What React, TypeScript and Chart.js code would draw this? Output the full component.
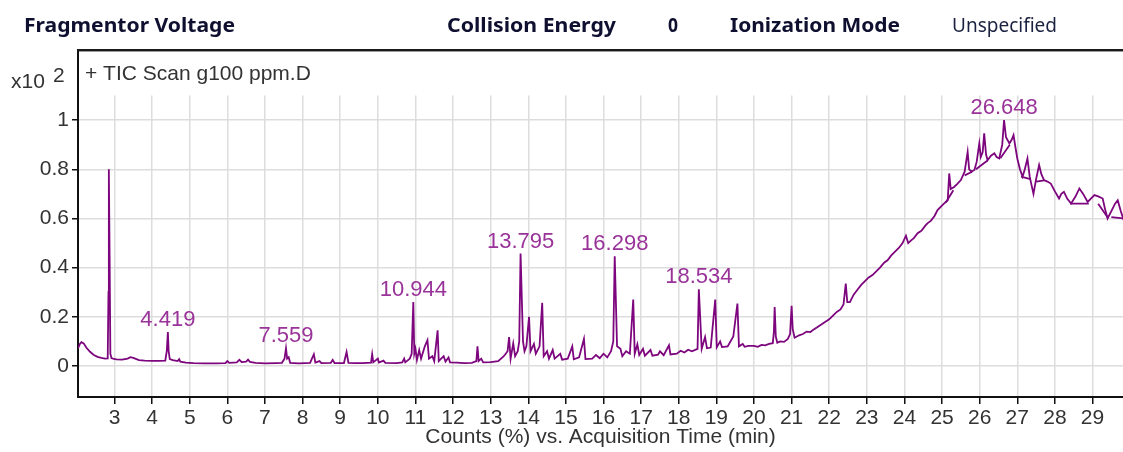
import React, { useEffect, useRef } from 'react';
import { Chart, registerables } from 'chart.js';

Chart.register(...registerables);

// ---- data (counts x10^2 vs acquisition time, min) ----
const times: number[] = [
  2.03, 2.08, 2.12, 2.18, 2.25, 2.35, 2.45, 2.55, 2.65, 2.75, 2.82, 2.84, 2.85, 2.87, 2.89, 2.92, 2.96,
  3.05, 3.2, 3.35, 3.42, 3.5, 3.55, 3.65, 3.8, 4.0, 4.2, 4.35, 4.39, 4.419, 4.44, 4.47, 4.55, 4.68, 4.72, 4.75, 4.9,
  5.1, 5.4, 5.7, 5.95, 6.0, 6.05, 6.25, 6.32, 6.38, 6.5, 6.55, 6.6, 6.75, 7.0, 7.3, 7.45, 7.52, 7.559, 7.59, 7.63, 7.67, 7.9,
  8.2, 8.3, 8.34, 8.45, 8.5, 8.75, 8.8, 8.85, 9.1, 9.17, 9.22, 9.4, 9.6, 9.82, 9.85, 9.88, 10.0, 10.03, 10.15, 10.2,
  10.5, 10.65, 10.7, 10.73, 10.85, 10.9, 10.944, 10.97, 11.0, 11.04, 11.1, 11.15, 11.25, 11.32, 11.36, 11.45, 11.5,
  11.59, 11.62, 11.75, 11.8, 11.88, 11.92, 12.1, 12.3, 12.5, 12.62, 12.65, 12.68, 12.75, 12.8, 13.0, 13.2, 13.35,
  13.45, 13.49, 13.53, 13.6, 13.65, 13.72, 13.76, 13.795, 13.86, 13.9, 13.95, 14.02, 14.06, 14.15, 14.2, 14.3, 14.37,
  14.41, 14.5, 14.55, 14.65, 14.7, 14.85, 14.9, 15.05, 15.17, 15.21, 15.35, 15.48, 15.52, 15.7, 15.8, 15.9, 16.0, 16.1, 16.2,
  16.26, 16.298, 16.36, 16.45, 16.5, 16.6, 16.7, 16.79, 16.83, 16.9, 16.95, 17.05, 17.1, 17.25, 17.3, 17.45, 17.5, 17.6,
  17.74, 17.78, 17.95, 18.05, 18.15, 18.25, 18.35, 18.5, 18.534, 18.61, 18.7, 18.75, 18.85, 18.97, 19.01, 19.1, 19.15, 19.3, 19.45,
  19.56, 19.6, 19.7, 19.75, 19.85,
  20.0, 20.1, 20.2, 20.3, 20.4, 20.5, 20.53, 20.55, 20.58, 20.62, 20.7, 20.8, 20.9, 20.96, 21.0, 21.03, 21.08, 21.2,
  21.3, 21.4, 21.5, 21.6, 21.7, 21.8, 21.9, 22.0, 22.1, 22.2, 22.3, 22.38, 22.44, 22.48, 22.55, 22.65, 22.75, 22.85,
  22.95, 23.05, 23.15, 23.25, 23.35, 23.46, 23.55, 23.65, 23.75, 23.85, 23.95, 24.04, 24.1, 24.17, 24.25, 24.35,
  24.45, 24.55, 24.61, 24.7, 24.8, 24.88, 24.95, 25.05, 25.15, 25.19, 25.23, 25.32, 25.4, 25.5, 25.6, 25.68, 25.72,
  25.78, 25.86, 25.92, 25.99, 26.03, 26.08, 26.12, 26.17, 26.21, 26.3, 26.39, 26.45, 26.52, 26.6, 26.648, 26.7,
  26.79, 26.85, 26.9, 26.95, 27.0, 27.07, 27.14, 27.2, 27.27, 27.33, 27.43, 27.5, 27.58, 27.64, 27.71, 27.8, 27.89,
  28.0, 28.11, 28.17, 28.24, 28.33, 28.43, 28.55, 28.65, 28.75, 28.87, 28.95, 29.05, 29.15, 29.27, 29.33, 29.4,
  29.5, 29.6, 29.67, 29.75, 29.83,
];

const counts: number[] = [
  0.072, 0.09, 0.097, 0.092, 0.075, 0.058, 0.045, 0.037, 0.033, 0.03, 0.031, 0.3, 0.8, 0.45, 0.05, 0.032, 0.03,
  0.027, 0.026, 0.03, 0.036, 0.033, 0.03, 0.024, 0.022, 0.021, 0.021, 0.022, 0.06, 0.138, 0.06, 0.028, 0.024, 0.02, 0.028, 0.018, 0.014,
  0.012, 0.011, 0.011, 0.012, 0.02, 0.013, 0.015, 0.025, 0.016, 0.018, 0.026, 0.017, 0.013, 0.011, 0.012, 0.013, 0.03, 0.072, 0.03, 0.036, 0.013, 0.011,
  0.013, 0.048, 0.014, 0.02, 0.012, 0.013, 0.025, 0.012, 0.012, 0.057, 0.013, 0.012, 0.012, 0.014, 0.048, 0.015, 0.03, 0.014, 0.022, 0.013,
  0.012, 0.015, 0.03, 0.015, 0.03, 0.05, 0.26, 0.05, 0.07, 0.025, 0.065, 0.03, 0.08, 0.105, 0.03, 0.04, 0.02,
  0.145, 0.02, 0.04, 0.018, 0.035, 0.015, 0.014, 0.012, 0.013, 0.02, 0.08, 0.02, 0.03, 0.015, 0.016, 0.02, 0.04,
  0.06, 0.118, 0.03, 0.092, 0.04, 0.06, 0.1, 0.457, 0.1, 0.06, 0.08, 0.2, 0.06, 0.09, 0.05, 0.08, 0.257,
  0.04, 0.06, 0.03, 0.065, 0.03, 0.05, 0.026, 0.03, 0.08, 0.027, 0.035, 0.11, 0.028, 0.03, 0.045, 0.032, 0.05, 0.035, 0.06,
  0.1, 0.446, 0.08, 0.07, 0.04, 0.06, 0.05, 0.27, 0.05, 0.088, 0.045, 0.07, 0.042, 0.065, 0.042, 0.046, 0.06, 0.044,
  0.084, 0.047, 0.05, 0.062, 0.055, 0.066, 0.06, 0.07, 0.312, 0.07, 0.118, 0.072, 0.075, 0.27, 0.076, 0.1, 0.077, 0.08, 0.12,
  0.254, 0.08, 0.09, 0.078, 0.082,
  0.082, 0.078, 0.086, 0.084, 0.09, 0.093, 0.14, 0.24, 0.12, 0.095, 0.1, 0.098, 0.11, 0.13, 0.245, 0.15, 0.115, 0.125,
  0.13, 0.14, 0.138, 0.15, 0.16, 0.17, 0.18, 0.19, 0.205, 0.22, 0.23, 0.25, 0.335, 0.26, 0.26, 0.29, 0.31, 0.33,
  0.345, 0.36, 0.37, 0.385, 0.4, 0.42, 0.43, 0.45, 0.465, 0.48, 0.5, 0.53, 0.5, 0.51, 0.52, 0.54,
  0.55, 0.57, 0.58, 0.59, 0.61, 0.634, 0.645, 0.66, 0.674, 0.783, 0.72, 0.728, 0.74, 0.756, 0.79, 0.871, 0.8,
  0.79, 0.797, 0.83, 0.905, 0.85, 0.87, 0.946, 0.86, 0.837, 0.855, 0.865, 0.85, 0.844, 0.9, 1.0, 0.93,
  0.905, 0.92, 0.939, 0.89, 0.844, 0.8, 0.77, 0.8, 0.844, 0.77, 0.7, 0.76, 0.817, 0.78, 0.756, 0.75, 0.742,
  0.71, 0.681, 0.7, 0.708, 0.68, 0.661, 0.69, 0.722, 0.7, 0.667, 0.68, 0.695, 0.69, 0.681, 0.64, 0.6,
  0.63, 0.66, 0.674, 0.63, 0.593,
];

// integration baselines drawn under the late peaks (null = gap)
const baseTimes: number[] = [25.1, 25.3, 25.35, 25.6, 25.8, 25.85, 25.9, 26.2, 26.25, 26.55, 26.8, 26.85, 27.1, 27.35, 27.4, 27.5, 27.72, 27.75, 28.4, 28.9, 28.95, 29.15, 29.4, 29.45, 29.5, 29.83];
const baseCounts: (number | null)[] = [0.665, 0.715, null, 0.775, 0.79, null, 0.8, 0.835, null, 0.845, 0.9, null, 0.77, 0.76, null, 0.75, 0.755, null, 0.66, 0.66, null, 0.66, 0.605, null, 0.605, 0.6];

const xTicks: number[] = [3, 4, 5, 6, 7, 8, 9, 10, 11, 12, 13, 14, 15, 16, 17, 18, 19, 20, 21, 22, 23, 24, 25, 26, 27, 28, 29];
const yTicks: number[] = [0, 0.2, 0.4, 0.6, 0.8, 1];
const xRange: number[] = [2.03, 29.81];
const yRange: number[] = [-0.126, 1.285];
const gridTop = 1.1;

const peakLabels: string[] = ['4.419', '7.559', '10.944', '13.795', '16.298', '18.534', '26.648'];

const headerTexts: string[] = ['Fragmentor Voltage', 'Collision Energy', '0', 'Ionization Mode', 'Unspecified'];
const legendText = '+ TIC Scan g100 ppm.D';
const axisTitle = 'Counts (%) vs. Acquisition Time (min)';
const yExponent = ['x10', '2'];

const FONT = '"Liberation Sans", Arial, sans-serif';
const TRACE = '#7d057d';
const LABEL = '#993399';

function fitText(ctx: CanvasRenderingContext2D, text: string, x: number, base: number, width: number, font: string, color: string) {
  ctx.save();
  ctx.font = font;
  const w = ctx.measureText(text).width;
  ctx.translate(x, base);
  ctx.scale(width / w, 1);
  ctx.fillStyle = color;
  ctx.textAlign = 'left';
  ctx.textBaseline = 'alphabetic';
  ctx.fillText(text, 0, 0);
  ctx.restore();
}

const decorPlugin = {
  id: 'decor',
  beforeDatasetsDraw(chart: any) {
    const { ctx, chartArea: a, scales } = chart;
    const yTop = scales.y.getPixelForValue(gridTop);
    ctx.save();
    ctx.fillStyle = '#ffffff';
    ctx.fillRect(a.left + 1.5, a.top, a.right - a.left, yTop - a.top);
    ctx.restore();
  },
  afterDraw(chart: any) {
    const { ctx, chartArea: a, scales } = chart;
    const { x, y } = scales;
    ctx.save();
    // top frame line
    ctx.strokeStyle = '#1a1a1a';
    ctx.lineWidth = 2;
    ctx.beginPath();
    ctx.moveTo(a.left - 1, a.top);
    ctx.lineTo(a.right, a.top);
    ctx.stroke();
    ctx.strokeStyle = '#9a9a9a';
    ctx.lineWidth = 1;
    ctx.beginPath();
    ctx.moveTo(a.left + 1, a.top + 1.5);
    ctx.lineTo(a.right, a.top + 1.5);
    ctx.stroke();

    // header
    const hx = [[24, 211], [447, 169], [668, 10], [730, 170], [952, 105]];
    headerTexts.forEach((t, i) => {
      const bold = i !== 4;
      fitText(ctx, t, hx[i][0], 32, hx[i][1], `${bold ? 'bold ' : ''}20px "Noto Sans", sans-serif`, bold ? '#0f1030' : '#1b2140');
    });

    // legend
    ctx.fillStyle = '#333333';
    ctx.font = `21px ${FONT}`;
    ctx.textAlign = 'left';
    ctx.textBaseline = 'alphabetic';
    ctx.fillText(legendText, a.left + 7, 80);

    // exponent
    ctx.fillText(yExponent[0], 11, 88);
    ctx.fillText(yExponent[1], 53, 82);

    // peak labels
    ctx.fillStyle = LABEL;
    ctx.font = `22px ${FONT}`;
    ctx.textAlign = 'center';
    peakLabels.forEach((lbl) => {
      const t = parseFloat(lbl);
      let apex = 0;
      times.forEach((tt, k) => {
        if (Math.abs(tt - t) < 0.03) apex = Math.max(apex, counts[k]);
      });
      ctx.fillText(lbl, x.getPixelForValue(t), y.getPixelForValue(apex) - 6);
    });
    ctx.restore();
  },
};

export default function App() {
  const ref = useRef<HTMLCanvasElement>(null);
  useEffect(() => {
    if (!ref.current) return;
    const chart = new Chart(ref.current, {
      type: 'line',
      data: {
        datasets: [
          {
            data: times.map((t, i) => ({ x: t, y: counts[i] })),
            borderColor: TRACE,
            borderWidth: 1.8,
            pointRadius: 0,
            tension: 0,
            fill: false,
          },
          {
            data: baseTimes.map((t, i) => ({ x: t, y: baseCounts[i] })),
            borderColor: TRACE,
            borderWidth: 1.8,
            pointRadius: 0,
            tension: 0,
            fill: false,
            spanGaps: false,
          },
        ],
      },
      options: {
        animation: false,
        responsive: false,
        events: [],
        layout: { padding: { top: 50, left: 0, right: 0, bottom: 0 } },
        plugins: { legend: { display: false }, tooltip: { enabled: false } },
        scales: {
          x: {
            type: 'linear',
            min: xRange[0],
            max: xRange[1],
            afterBuildTicks: (s: any) => {
              s.ticks = xTicks.map((v) => ({ value: v }));
            },
            afterFit: (s: any) => {
              s.height = 55;
              s.paddingLeft = 0;
              s.paddingRight = 0;
            },
            ticks: {
              autoSkip: false,
              maxRotation: 0,
              color: '#333333',
              font: { family: FONT, size: 21 },
              padding: 2,
              callback: (v: any) => String(v),
            },
            grid: { color: '#dddddd', lineWidth: 1.5, tickLength: 7, tickColor: '#111111', tickWidth: 1.5 },
            border: { display: true, color: '#111111', width: 2 },
            title: {
              display: true,
              text: axisTitle,
              color: '#333333',
              font: { family: FONT, size: 21 },
              padding: { top: 0, bottom: 2 },
            },
          },
          y: {
            type: 'linear',
            min: yRange[0],
            max: yRange[1],
            afterBuildTicks: (s: any) => {
              s.ticks = yTicks.map((v) => ({ value: v }));
            },
            afterFit: (s: any) => {
              s.width = 78;
            },
            ticks: {
              color: '#333333',
              font: { family: FONT, size: 21 },
              padding: 3,
              callback: (v: any) => String(Math.round(v * 10) / 10),
            },
            grid: { color: '#dddddd', lineWidth: 1.5, tickLength: 6, tickColor: '#111111', tickWidth: 1.5 },
            border: { display: true, color: '#111111', width: 2 },
          },
        },
      },
      plugins: [decorPlugin],
    } as any);
    return () => chart.destroy();
  }, []);

  return (
    <div style={{ position: 'fixed', left: 0, top: 0, width: 1123, height: 452, background: '#ffffff' }}>
      <canvas ref={ref} width={1123} height={452} style={{ display: 'block', width: 1123, height: 452 }} />
    </div>
  );
}
